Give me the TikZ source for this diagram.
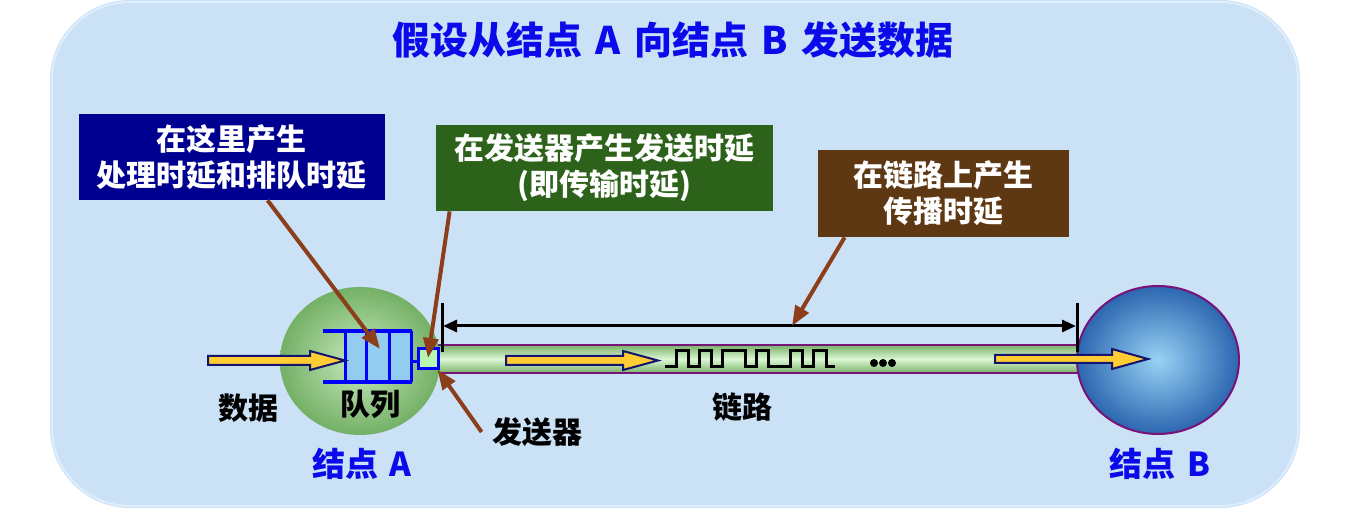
\documentclass[tikz,border=0pt]{standalone}
\usepackage{fontspec}
\newfontfamily\cjk{Noto Sans CJK SC}
\usetikzlibrary{arrows.meta,shapes.geometric,calc}
\definecolor{bgblue}{RGB}{202,225,246}
\definecolor{bgedge}{RGB}{222,238,252}
\definecolor{navybox}{RGB}{0,0,144}
\definecolor{greenbox}{RGB}{44,98,26}
\definecolor{brownbox}{RGB}{94,56,18}
\definecolor{ptrbrown}{RGB}{140,62,26}
\definecolor{qblue}{RGB}{0,0,255}
\definecolor{qfill}{RGB}{148,204,240}
\definecolor{txfill}{RGB}{182,246,176}
\definecolor{ygold}{RGB}{255,204,51}
\definecolor{yedge}{RGB}{20,20,110}
\definecolor{tubedark}{RGB}{120,178,104}
\definecolor{tubelight}{RGB}{220,246,212}
\definecolor{tubeedge}{RGB}{120,20,120}
\definecolor{titleblue}{RGB}{10,10,235}
\definecolor{gAin}{RGB}{200,234,190}
\definecolor{gAout}{RGB}{116,176,102}
\definecolor{bBin}{RGB}{152,210,244}
\definecolor{bBout}{RGB}{44,102,176}
\newcommand\mygap{\hspace{0.35em}}
\begin{document}
\begin{tikzpicture}[x=0.5pt,y=-0.5pt,
  cjkb/.style={font=\cjk\bfseries\fontsize{15}{18}\selectfont},
  lbl/.style={cjkb, inner sep=0pt, align=center},
  infobox/.style={lbl, text=white, minimum height=43pt},
  bluelbl/.style={font=\cjk\bfseries\fontsize{16.5}{20}\selectfont, text=titleblue, inner sep=0pt},
  ptr/.style={draw=ptrbrown, line width=2pt, -{Triangle[length=10pt,width=7.5pt]}},
  yarrow/.style={fill=ygold, draw=yedge, line width=1pt, line join=miter},
  qline/.style={draw=qblue, line width=2pt},
  dimline/.style={draw=black, line width=1.5pt}]
\useasboundingbox (0,0) rectangle (1372,522);
% background panel
\fill[bgblue, rounded corners=40pt] (50,0) rectangle (1300,508);
\draw[bgedge, line width=1pt, rounded corners=39pt] (52,2) rectangle (1298,506);
% title
\node[font=\cjk\bfseries\fontsize{19}{22}\selectfont, text=titleblue, inner sep=0pt] (title) at (673,40)
  {假设从结点\mygap A\mygap 向结点\mygap B\mygap 发送数据};
% info boxes
\node[infobox, fill=navybox, minimum width=153pt] (navy) at (232,157) {在这里产生\\处理时延和排队时延};
\node[infobox, fill=greenbox, minimum width=168.5pt] (gbox) at (604.5,168) {在发送器产生发送时延\\(即传输时延)};
\node[infobox, fill=brownbox, minimum width=125.5pt, minimum height=43.5pt] (bbox) at (943.5,193.5) {在链路上产生\\传播时延};
% link tube
\node[rectangle, inner sep=0pt, minimum width=335pt, minimum height=14pt,
  top color=tubedark, bottom color=tubedark, middle color=tubelight] (link) at (765,359) {};
\draw[tubeedge, line width=1pt] (link.north west) -- (link.north east);
\draw[tubeedge, line width=1pt] (link.south west) -- (link.south east);
% nodes A and B
\node[ellipse, inner sep=0pt, minimum width=80pt, minimum height=74pt, shade,
  inner color=gAin, outer color=gAout] (A) at (360,361) {};
\node[ellipse, inner sep=0pt, minimum width=81pt, minimum height=74pt, shade,
  inner color=bBin, outer color=bBout, draw=tubeedge, line width=1pt] (B) at (1158,360) {};
% queue
\node[rectangle, inner sep=0pt, fill=qfill, minimum width=34pt, minimum height=25.5pt] (Q) at (378,356.5) {};
\draw[qline] (323,331) -- (412,331);
\draw[qline] (323,382) -- (412,382);
\foreach \qx in {345,366.5,389,411} \draw[draw=qblue, line width=1.5pt] (\qx,331) -- (\qx,382);
% transmitter
\node[rectangle, inner sep=0pt, minimum size=10pt, fill=txfill, draw=qblue, line width=1.5pt] (T) at (428,359) {};
\draw[draw=qblue, line width=1.5pt] (Q.east) ++(0,-2.5pt) coordinate (qe) -- (qe -| T.west);
% yellow data arrows
\draw[yarrow] (208,356) -- (310,356) -- (310,351) -- (345,360.5) -- (310,370) -- (310,365) -- (208,365) -- cycle;
\draw[yarrow] (506,356) -- (623,356) -- (623,351) -- (658,360.5) -- (623,370) -- (623,365) -- (506,365) -- cycle;
\draw[yarrow] (995,355) -- (1112,355) -- (1112,349) -- (1148,359) -- (1112,369) -- (1112,363) -- (995,363) -- cycle;
% square wave
\draw[line width=1.5pt, line join=miter] (665,367) -| (676,351) -| (688,367) -| (699,351) -| (711,367) -| (722,351)
  -| (745,367) -| (756,351) -| (768,367) -| (790,351) -| (802,367) -| (813,351) -| (826,367) -- (835,367);
\foreach \dx in {874,883,892} \fill (\dx,363) circle (2pt);
% dimension line
\coordinate (dimL) at (443,326);
\coordinate (dimR) at (1076,326);
\coordinate (dimM) at (792,326);
\draw[dimline] (442,303) -- (442,352);
\draw[dimline] (1077,303) -- (1077,352);
\draw[dimline, {Triangle[length=7pt,width=6pt]}-{Triangle[length=7pt,width=6pt]}] (dimL) -- (dimR);
% labels
\node[lbl] (data) at (248,408) {数据};
\node[lbl] (qlbl) at (370,404) {队列};
\node[lbl] (send) at (537,432) {发送器};
\node[lbl] (linklbl) at (742,407) {链路};
\node[bluelbl] (Albl) at (362,464) {结点\mygap A};
\node[bluelbl] (Blbl) at (1160,464) {结点\mygap B};
% pointer arrows
\draw[ptr] ([xshift=94.5pt]navy.south west) -- ([xshift=1pt,yshift=3.75pt]Q.center);
\draw[ptr] ([xshift=7pt]gbox.south west) -- ([yshift=0.5pt]T.center);
\draw[ptr] ([xshift=-5pt]send.west) -- ([xshift=-1pt,yshift=0.5pt]T.south east);
\draw[ptr] ([xshift=13.5pt]bbox.south west) -- (dimM);
\end{tikzpicture}
\end{document}
